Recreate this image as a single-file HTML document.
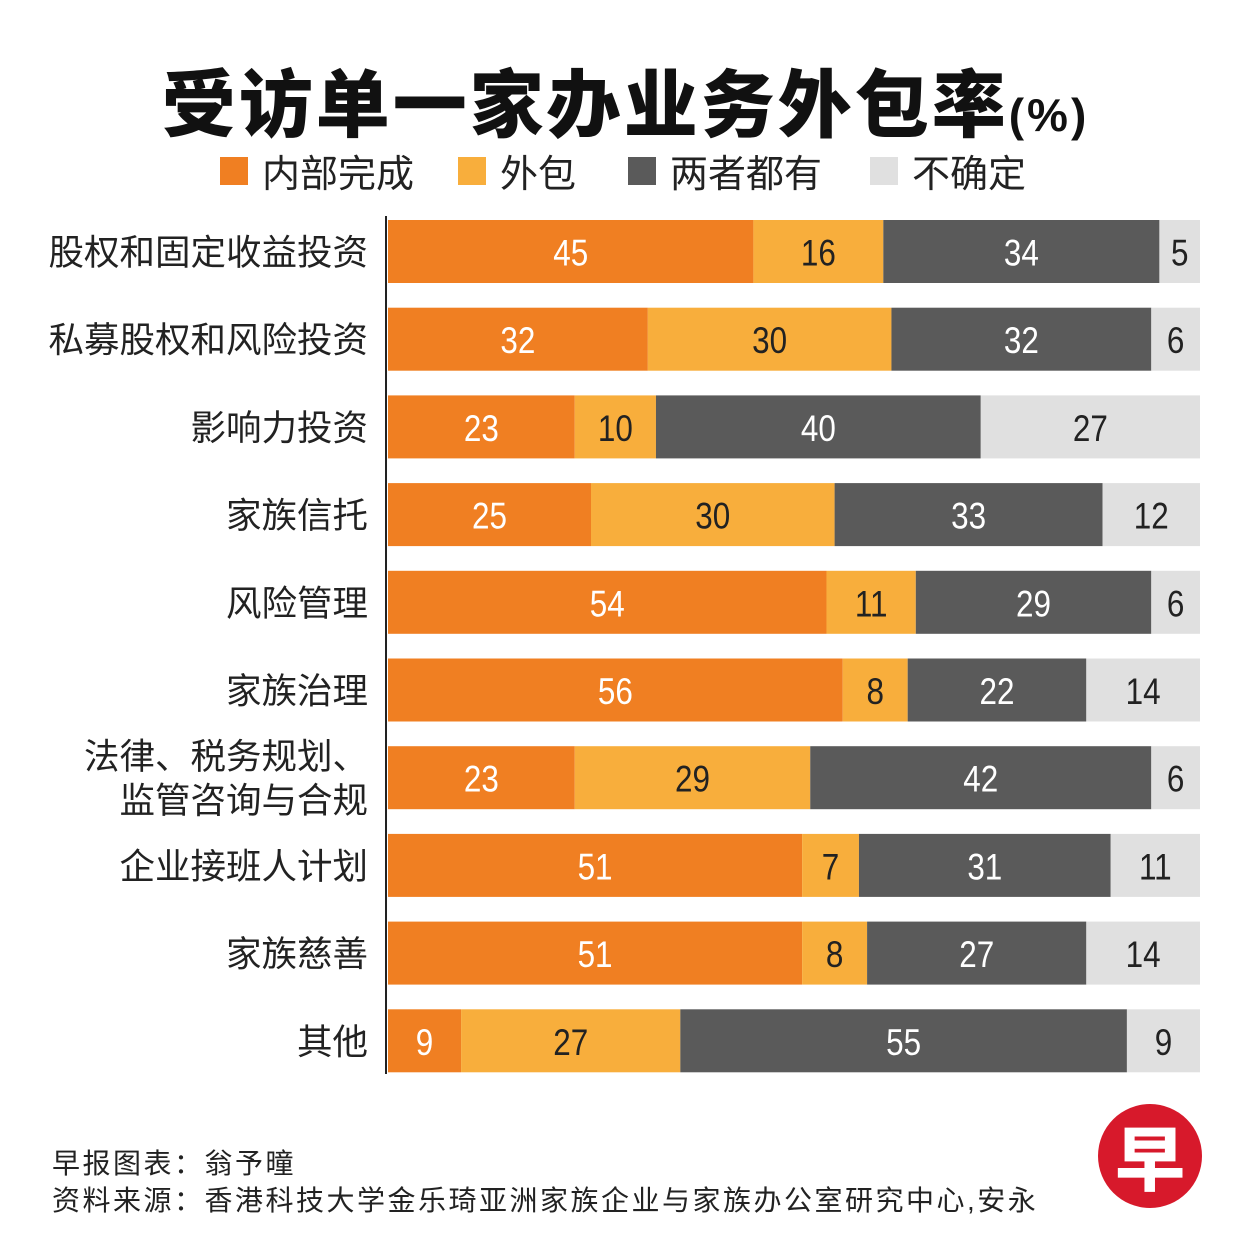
<!DOCTYPE html>
<html><head><meta charset="utf-8">
<style>
body{margin:0;background:#fff;}
#wrap{position:relative;width:1251px;height:1254px;overflow:hidden;background:#fff;font-family:"Liberation Sans","Noto Sans CJK SC",sans-serif;}
.title{position:absolute;left:0;width:1251px;top:46px;text-align:center;font-size:74px;font-weight:800;color:#111;letter-spacing:3px;}
.title span{font-size:46px;font-weight:700;}
.leg{position:absolute;top:143px;font-size:38px;color:#222;display:flex;align-items:center;}
.leg i{display:inline-block;width:28px;height:28px;margin-right:14px;}
.foot{position:absolute;left:52px;font-size:28px;color:#222;letter-spacing:2.5px;}
</style></head><body>
<div id="wrap">
<div class="title">受访单一家办业务外包率<span>(%)</span></div>
<div class="leg" style="left:220px"><i style="background:#F07F22"></i>内部完成</div>
<div class="leg" style="left:458px"><i style="background:#F8AE3C"></i>外包</div>
<div class="leg" style="left:628px"><i style="background:#5A5A5A"></i>两者都有</div>
<div class="leg" style="left:870px"><i style="background:#E0E0E0"></i>不确定</div>
<svg id="plot" width="1251" height="1254" style="position:absolute;left:0;top:0"></svg>
<div class="foot" style="top:1142px">早报图表：翁予曈</div>
<div class="foot" style="top:1179px">资料来源：香港科技大学金乐琦亚洲家族企业与家族办公室研究中心,安永</div>
<div style="position:absolute;left:1098px;top:1104px;width:104px;height:104px;border-radius:50%;background:#D7192B;color:#fff;font-size:70px;font-weight:900;text-align:center;line-height:104px;font-family:'Noto Sans CJK SC',sans-serif;">早</div>
</div>
<script>
const categories=["股权和固定收益投资","私募股权和风险投资","影响力投资","家族信托","风险管理","家族治理","法律、税务规划、|监管咨询与合规","企业接班人计划","家族慈善","其他"];
const inHouse=[45,32,23,25,54,56,23,51,51,9];
const outsourced=[16,30,10,30,11,8,29,7,8,27];
const both=[34,32,40,33,29,22,42,31,27,55];
const uncertain=[5,6,27,12,6,14,6,11,14,9];
const series=[inHouse,outsourced,both,uncertain];
const seriesNames=["in-house","outsourced","both","uncertain"];
const colors=["#F07F22","#F8AE3C","#5A5A5A","#E0E0E0"];
const textColors=["#fff","#222","#fff","#222"];
const NS="http://www.w3.org/2000/svg";
const svg=document.getElementById('plot');
const x0=388,x1=1200,yTop=220,pitch=87.7,barH=63;
const xs=v=>x0+v/100*(x1-x0);
const ys=i=>yTop+i*pitch;
const axis=document.createElementNS(NS,'line');
axis.setAttribute('x1',386);axis.setAttribute('x2',386);axis.setAttribute('y1',216);axis.setAttribute('y2',1074);
axis.setAttribute('stroke','#222');axis.setAttribute('stroke-width',2);


svg.appendChild(axis);
categories.forEach((c,i)=>{
  let cum=0;
  series.forEach((s,k)=>{
    const v=s[i];
    const r=document.createElementNS(NS,'rect');
    r.setAttribute('x',xs(cum));r.setAttribute('width',xs(cum+v)-xs(cum));
    r.setAttribute('y',ys(i));r.setAttribute('height',barH);r.setAttribute('fill',colors[k]);
    
    
    svg.appendChild(r);
    const t=document.createElementNS(NS,'text');
    const cx=(xs(cum)+xs(cum+v))/2;
    t.setAttribute('x',cx);t.setAttribute('y',ys(i)+barH/2+14);
    t.setAttribute('text-anchor','middle');t.setAttribute('font-size',37);
    t.setAttribute('fill',textColors[k]);
    t.setAttribute('font-family','Liberation Sans, sans-serif');
    t.setAttribute('transform','translate('+cx+' 0) scale(0.85 1) translate('+(-cx)+' 0)');
    t.textContent=v;
    
    
    svg.appendChild(t);
    cum+=v;
  });
  const lines=c.split('|');
  lines.forEach((ln,j)=>{
    const t=document.createElementNS(NS,'text');
    t.setAttribute('x',368);
    const yc=ys(i)+barH/2+13+(lines.length>1?(j-0.5)*44:0);
    t.setAttribute('y',yc);
    t.setAttribute('text-anchor','end');t.setAttribute('font-size',35.5);t.setAttribute('fill','#222');
    t.setAttribute('font-family','Noto Sans CJK SC, sans-serif');
    t.textContent=ln;
    
    
    svg.appendChild(t);
  });
});
</script>
</body></html>
